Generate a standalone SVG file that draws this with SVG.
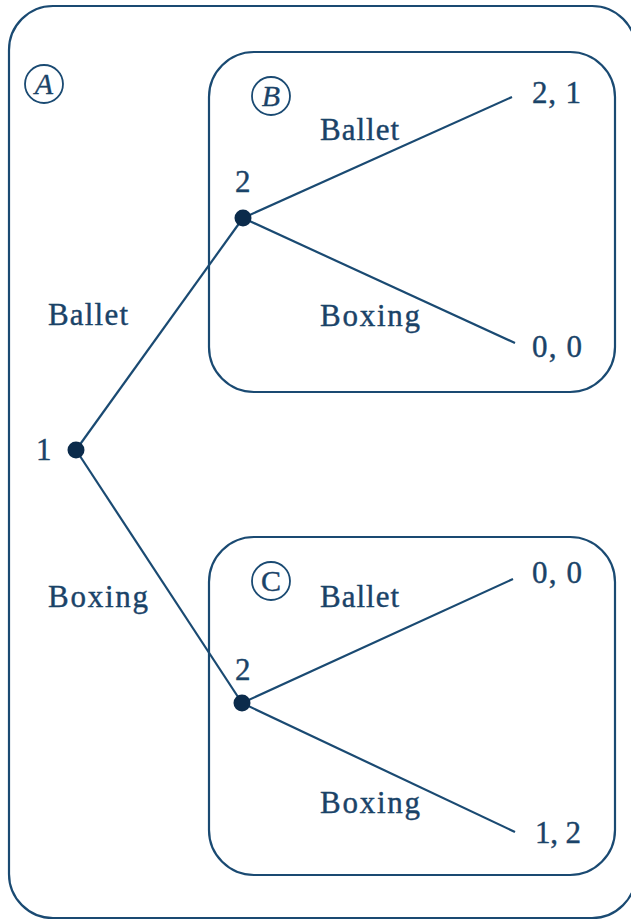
<svg xmlns="http://www.w3.org/2000/svg" width="631" height="920" viewBox="0 0 631 920">
<style>
.box{fill:none;stroke:#1a4a72;stroke-width:2.2}
.edge{stroke:#1a4a72;stroke-width:2.2;fill:none}
.dot{fill:#0b2b4b}
.t{font-family:"Liberation Serif","DejaVu Serif",serif;font-size:31px;fill:#1a4368;stroke:#1a4368;stroke-width:0.4}
.lbl{font-family:"Liberation Serif","DejaVu Serif",serif;font-size:30px;fill:#1a4368;font-style:italic;stroke:#1a4368;stroke-width:0.3}
.ring{fill:none;stroke:#1a4a72;stroke-width:1.8}
</style>
<rect width="631" height="920" fill="#ffffff"/>
<g id="setA">
<rect class="box" x="9" y="6" width="627" height="912" rx="44"/>
<circle class="ring" cx="44" cy="84" r="19"/>
<text class="lbl" x="44" y="94" text-anchor="middle">A</text>
</g>
<g id="setB">
<rect class="box" x="209" y="52" width="406" height="340" rx="45"/>
<circle class="ring" cx="271" cy="96" r="19"/>
<text class="lbl" x="271" y="106" text-anchor="middle">B</text>
</g>
<g id="setC">
<rect class="box" x="209" y="537" width="406" height="338" rx="45"/>
<circle class="ring" cx="271" cy="581" r="19"/>
<text class="t" x="271" y="591" text-anchor="middle" style="font-size:30px">C</text>
</g>
<g id="connectors">
<line class="edge" x1="76" y1="450" x2="243" y2="218"/>
<line class="edge" x1="76" y1="450" x2="242" y2="703"/>
<line class="edge" x1="243" y1="218" x2="512" y2="97"/>
<line class="edge" x1="243" y1="218" x2="515" y2="343"/>
<line class="edge" x1="242" y1="703" x2="513" y2="579"/>
<line class="edge" x1="242" y1="703" x2="515" y2="832"/>
</g>
<g id="node1">
<circle class="dot" cx="76" cy="450" r="8.5"/>
<text class="t" x="36" y="460">1</text>
</g>
<g id="node2B">
<circle class="dot" cx="243" cy="218" r="8.5"/>
<text class="t" x="235" y="192">2</text>
</g>
<g id="node2C">
<circle class="dot" cx="242" cy="703" r="8.5"/>
<text class="t" x="235" y="680">2</text>
</g>
<g id="labels">
<text class="t" x="48" y="325" textLength="80">Ballet</text>
<text class="t" x="48" y="607" textLength="100">Boxing</text>
<text class="t" x="320" y="140" textLength="79">Ballet</text>
<text class="t" x="320" y="326" textLength="100">Boxing</text>
<text class="t" x="320" y="607" textLength="79">Ballet</text>
<text class="t" x="320" y="813" textLength="100">Boxing</text>
</g>
<g id="payoffs">
<text class="t" x="532" y="103" textLength="49">2, 1</text>
<text class="t" x="532" y="357" textLength="50">0, 0</text>
<text class="t" x="532" y="583" textLength="50">0, 0</text>
<text class="t" x="535" y="843" textLength="46">1, 2</text>
</g>
</svg>
